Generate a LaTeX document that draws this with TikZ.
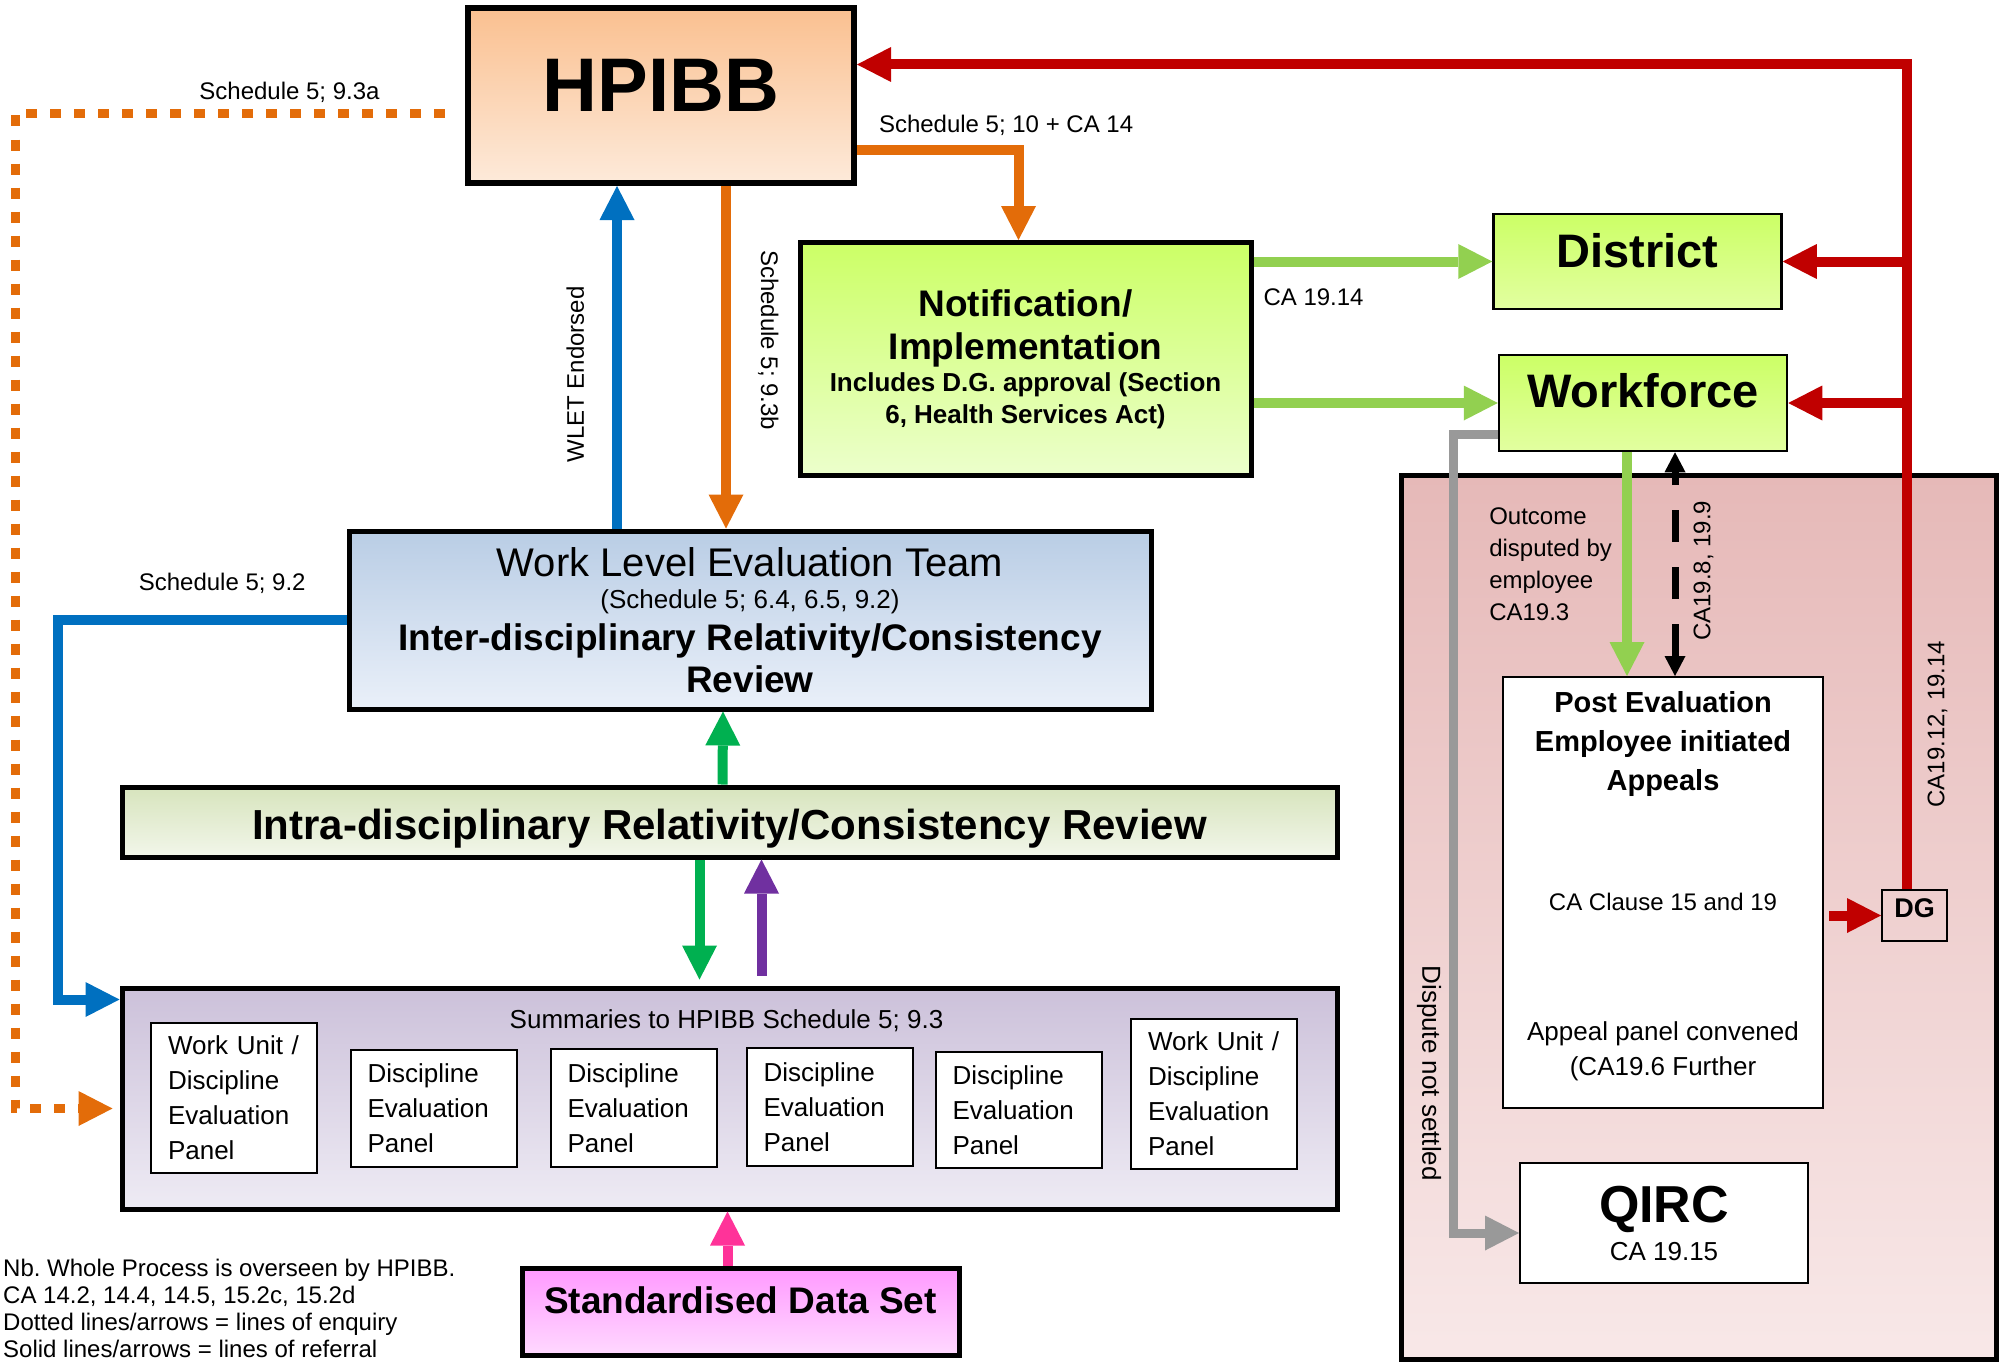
\documentclass[tikz,border=0pt]{standalone}
\usepackage{fontspec}
\setmainfont{Liberation Sans}
\frenchspacing
\usepackage{tikz}
\usetikzlibrary{arrows.meta,positioning}

\definecolor{hpred}{HTML}{C00000}
\definecolor{hporange}{HTML}{E36C09}
\definecolor{hpblue}{HTML}{0070C0}
\definecolor{hpgreen}{HTML}{92D050}
\definecolor{hpdkgreen}{HTML}{00B050}
\definecolor{hppurple}{HTML}{7030A0}
\definecolor{hppink}{HTML}{FF3399}
\definecolor{hpgrey}{HTML}{999999}

\begin{document}
\begin{tikzpicture}[x=1pt, y=-1pt, main/.style = {draw, line width=5pt, inner sep=0pt, align=center}, thinbox/.style = {draw, line width=2pt, fill=white, inner sep=0pt, align=center}, lbl/.style = {inner sep=0pt, text=black, font=\fontsize{24}{32}\selectfont}, panel/.style = {draw, line width=2pt, fill=white, text width=132pt, inner xsep=17pt, inner ysep=0pt, align=left, font=\fontsize{26}{35}\selectfont}, link/.style = {line width=10pt, -{Triangle[length=34pt, width=35pt, line width=0pt]}}, enquiry/.style = {hporange, line width=9pt, dash pattern=on 11pt off 13pt, -{Triangle[length=34pt, width=35pt, line width=0pt]}}, disputed/.style = {black, line width=7pt, dash pattern=on 32pt off 25pt, {Triangle[length=20pt, width=21pt, line width=0pt]}-{Triangle[length=20pt, width=21pt, line width=0pt]}}]
                    \useasboundingbox (0,0) rectangle (2004,1362);
                    % appeals area
                    \node[main, minimum width=595pt, minimum height=884pt, top color={rgb,255:red,230;green,185;blue,184}, bottom color={rgb,255:red,248;green,232;blue,232}] (zone) at (1698.5,917) {};
                    \node[main, line width=6pt, minimum width=386pt, minimum height=175pt, top color={rgb,255:red,250;green,192;blue,144}, bottom color={rgb,255:red,253;green,234;blue,218}, font=\fontsize{76}{80}\selectfont\bfseries, text depth=21pt] (hpibb) at (661,95.5) {HPIBB};
                    \node[main, text width=440pt, minimum width=451pt, minimum height=233pt, top color={rgb,255:red,204;green,255;blue,102}, bottom color={rgb,255:red,236;green,255;blue,204}] (notif) at (1025.5,359) {\centering\spaceskip=0pt\fontsize{37}{43}\selectfont\bfseries Notification/\\Implementation\par\fontsize{26}{32}\selectfont Includes D.G. approval (Section\\6, Health Services Act)\par};
                    \node[main, line width=2.5pt, minimum width=288pt, minimum height=95pt, top color={rgb,255:red,204;green,255;blue,102}, bottom color={rgb,255:red,226;green,255;blue,160}, font=\fontsize{47}{52}\selectfont\bfseries, text depth=23pt] (district) at (1637.5,261.5) {District};
                    \node[main, line width=2.5pt, minimum width=288pt, minimum height=96pt, top color={rgb,255:red,204;green,255;blue,102}, bottom color={rgb,255:red,226;green,255;blue,160}, font=\fontsize{47}{52}\selectfont\bfseries, text depth=25pt] (workforce) at (1643,403) {Workforce};
                    \node[main, text width=790pt, minimum width=802pt, minimum height=178pt, top color={rgb,255:red,185;green,205;blue,229}, bottom color={rgb,255:red,234;green,240;blue,249}] (wlet) at (750,620) {\centering\spaceskip=0pt\fontsize{40}{44}\selectfont Work Level Evaluation Team\par\fontsize{26}{32}\selectfont (Schedule 5; 6.4, 6.5, 9.2)\par\fontsize{37}{42}\selectfont\bfseries Inter-disciplinary Relativity/Consistency\\Review\par};
                    \node[main, minimum width=1215pt, minimum height=70pt, top color={rgb,255:red,215;green,228;blue,189}, bottom color={rgb,255:red,242;green,246;blue,234}, font=\fontsize{42}{48}\selectfont\bfseries, text height=34pt, text depth=0pt] (intra) at (729.5,822) {Intra-disciplinary Relativity/Consistency Review};
                    \node[main, minimum width=1215pt, minimum height=221pt, top color={rgb,255:red,204;green,193;blue,218}, bottom color={rgb,255:red,238;green,235;blue,244}] (summ) at (729.5,1098.5) {};
                    \node[lbl, font=\fontsize{26}{32}\selectfont] (summtxt) at ([xshift=-3pt, yshift=-35pt]summ.north) {Summaries to HPIBB Schedule 5; 9.3};
                    \node[panel, minimum height=150pt] (p1) at (234,1098) {Work Unit /\\Discipline\\Evaluation\\Panel};
                    \node[panel, minimum height=117pt] (p2) at (433.5,1108.5) {Discipline\\Evaluation\\Panel};
                    \node[panel, minimum height=118pt] (p3) at (633.5,1108) {Discipline\\Evaluation\\Panel};
                    \node[panel, minimum height=118pt] (p4) at (829.5,1107) {Discipline\\Evaluation\\Panel};
                    \node[panel, minimum height=116pt] (p5) at (1018.5,1110) {Discipline\\Evaluation\\Panel};
                    \node[panel, minimum height=150pt] (p6) at (1214,1094) {Work Unit /\\Discipline\\Evaluation\\Panel};
                    \node[main, minimum width=437pt, minimum height=87pt, top color={rgb,255:red,255;green,153;blue,255}, bottom color={rgb,255:red,255;green,217;blue,255}, font=\fontsize{37}{42}\selectfont\bfseries, text depth=23pt] (std) at (740.5,1311.5) {Standardised Data Set};
                    \node[thinbox, minimum width=320pt, minimum height=431pt] (appeal) at (1663,892.5) {};
                    \node[lbl, font=\fontsize{29}{39}\selectfont\bfseries, align=center, anchor=north] (appealtitle) at ([yshift=-15pt]appeal.north) {Post Evaluation\\Employee initiated\\Appeals};
                    \node[lbl] (clause) at ([yshift=-9.5pt]appeal.center) {CA Clause 15 and 19};
                    \node[lbl, font=\fontsize{26}{35}\selectfont, align=center] (convened) at ([yshift=-158.5pt]appeal.center) {Appeal panel convened\\(CA19.6 Further};
                    \node[thinbox, text width=280pt, minimum width=288pt, minimum height=120pt] (qirc) at (1664,1223) {\centering\spaceskip=0pt\fontsize{52}{56}\selectfont\bfseries QIRC\par\fontsize{26}{38}\selectfont\mdseries CA 19.15\par};
                    \node[thinbox, minimum width=65pt, minimum height=51pt, fill=none, font=\fontsize{27}{30}\selectfont\bfseries, text depth=15pt] (dg) at (1914.5,915.5) {DG};
                    \node[lbl, font=\fontsize{24}{27}\selectfont, align=left, anchor=north west] (note) at (3,1259) {Nb. Whole Process is overseen by HPIBB.\\CA 14.2, 14.4, 14.5, 15.2c, 15.2d\\Dotted lines/arrows = lines of enquiry\\Solid lines/arrows = lines of referral};
                    % lines of referral
                    \coordinate (redx) at ([xshift=-8pt]dg.north);
                    \draw[link, hpred] (redx) |- node[lbl, sloped, below=16pt, pos=0.1] {CA19.12, 19.14} ([yshift=31pt]hpibb.east);
                    \draw[link, hpred] (redx |- district.east) -- (district.east);
                    \draw[link, hpred] (redx |- workforce.east) -- (workforce.east);
                    \draw[link, hpred, shorten <=5pt] (appeal.east |- dg.west) -- (dg.west);
                    \draw[link, hporange] ([yshift=-54pt]hpibb.east) -| node[lbl, pos=0, anchor=south west, xshift=17pt, yshift=9pt] {Schedule 5; 10 + CA 14} ([xshift=-7pt]notif.north);
                    \draw[link, hporange] ([xshift=65pt]hpibb.south) -- node[lbl, sloped, above=27pt, pos=0.45] {Schedule 5; 9.3b} ([xshift=-24pt]wlet.north);
                    \draw[link, hpblue] ([xshift=-133pt]wlet.north) -- node[lbl, sloped, above=28pt, pos=0.45] {WLET Endorsed} ([xshift=-44pt]hpibb.south);
                    \draw[link, hpblue] (wlet.west) -- node[lbl, above=21pt, pos=0.43] {Schedule 5; 9.2} ++(-289,0) |- ([yshift=99pt]summ.west);
                    \draw[link, hpgreen] (notif.east |- district.west) -- node[lbl, pos=0, anchor=north west, xshift=5pt, yshift=-22pt] {CA 19.14} (district.west);
                    \draw[link, hpgreen] (notif.east |- workforce.west) -- (workforce.west);
                    \draw[link, hpgreen] ([xshift=-16pt]workforce.south) -- node[lbl, left=10pt, align=left] {Outcome\\disputed by\\employee\\CA19.3} ([xshift=-36pt]appeal.north);
                    \draw[disputed] ([xshift=12pt]appeal.north) -- node[lbl, sloped, below=15pt, pos=0.47] {CA19.8, 19.9} ([xshift=32pt]workforce.south);
                    \draw[link, hpgrey, line width=9pt] ([yshift=-31pt]workforce.west) -- ++(-44,0) |- node[lbl, sloped, below=8pt, pos=0.4, font=\fontsize{26}{30}\selectfont] {Dispute not settled} ([yshift=-10pt]qirc.west);
                    \draw[link, hpdkgreen] ([xshift=-7pt]intra.north) -- ([xshift=-27pt]wlet.south);
                    \draw[link, hpdkgreen, shorten >=6pt] ([xshift=-30pt]intra.south) -- ([xshift=-30pt]summ.north);
                    \draw[link, hppurple, shorten <=10pt] ([xshift=32pt]summ.north) -- ([xshift=32pt]intra.south);
                    \draw[link, hppink] ([xshift=-13pt]std.north) -- ([xshift=-2pt]summ.south);
                    % lines of enquiry
                    \draw[enquiry, shorten <=20pt, shorten >=7pt] ([yshift=-18pt]hpibb.west) -- node[lbl, above=6pt, pos=0.39] {Schedule 5; 9.3a} ++(-450,0) |- ([yshift=-10pt]summ.west);
                \end{tikzpicture}
\end{document}
